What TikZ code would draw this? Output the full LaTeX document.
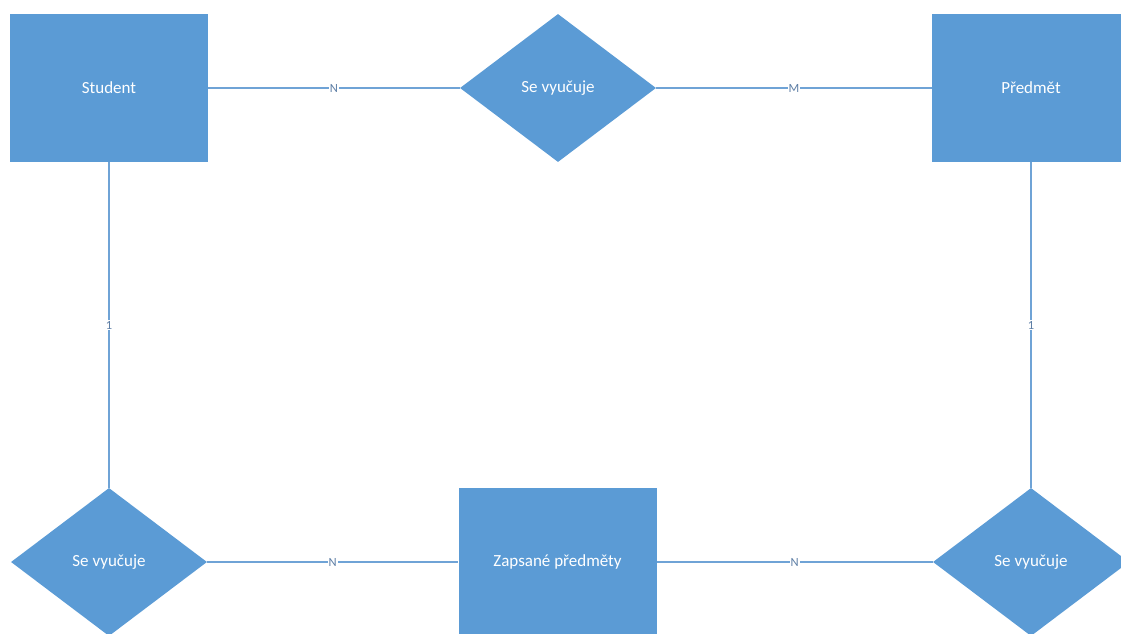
\documentclass[tikz,border=0pt]{standalone}
\usepackage{fontspec}
\setmainfont{Carlito}
\usepackage{tikz}
\usetikzlibrary{shapes.geometric}
\definecolor{erblue}{HTML}{5B9BD5}
\definecolor{erline}{HTML}{6FA3D6}
\definecolor{ertext}{HTML}{5E7FA6}
\tikzset{
  entity/.style={rectangle, fill=erblue, text=white, minimum width=198pt, minimum height=148pt, font=\fontsize{17}{20}\selectfont},
  relation/.style={diamond, fill=erblue, text=white, inner sep=0pt, minimum width=196pt, minimum height=148pt, font=\fontsize{17}{20}\selectfont},
  conn/.style={draw=erline, line width=1.3pt},
  card/.style={midway, fill=white, inner sep=1pt, text=ertext, font=\fontsize{12.5}{14}\selectfont}
}

\begin{document}
\begin{tikzpicture}[x=1pt,y=1pt]
\useasboundingbox (0,0) rectangle (1121,633);

\node[entity] (student) at (109,545) {Student};
\node[relation] (vyuka) at (558,545) {Se vyučuje};
\node[entity] (predmet) at (1031,545) {Předmět};
\node[relation] (vyukaL) at (109,71) {Se vyučuje};
\node[entity] (zapsane) at (557.5,71) {Zapsané předměty};
\node[relation] (vyukaR) at (1031,71) {Se vyučuje};

\draw[conn] (student.east) -- (vyuka.west) node[card] {N};
\draw[conn] (vyuka.east) -- (predmet.west) node[card] {M};
\draw[conn] (student.south) -- (vyukaL.north) node[card] {1};
\draw[conn] (predmet.south) -- (vyukaR.north) node[card] {1};
\draw[conn] (vyukaL.east) -- (zapsane.west) node[card] {N};
\draw[conn] (zapsane.east) -- (vyukaR.west) node[card] {N};
\end{tikzpicture}
\end{document}
